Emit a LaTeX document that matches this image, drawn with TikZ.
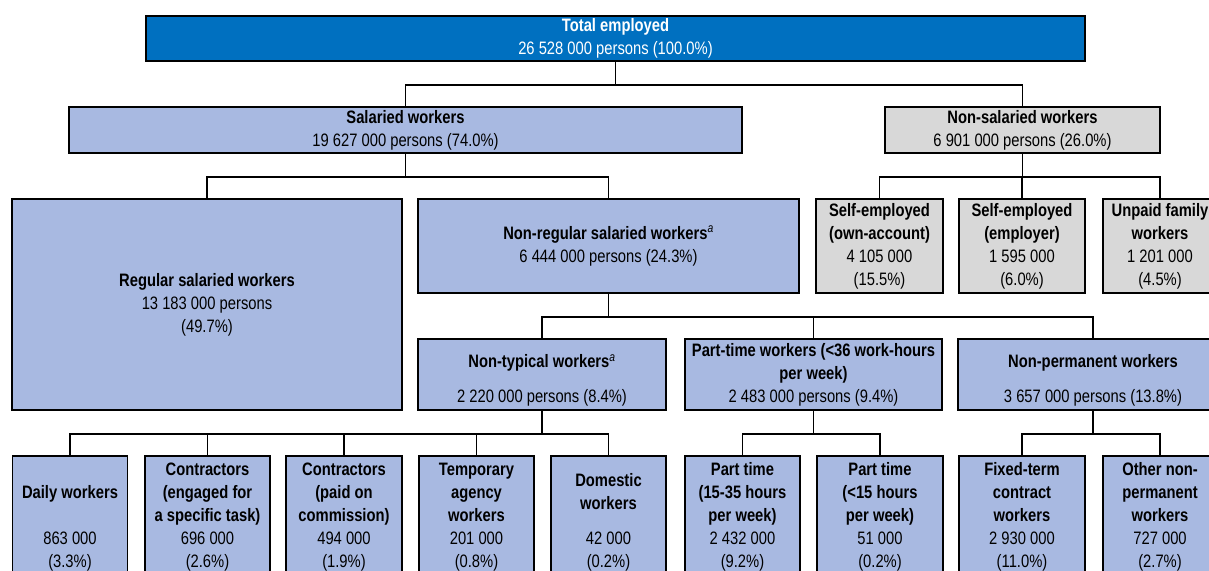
\documentclass[tikz,border=0pt]{standalone}
\usepackage{fontspec}
\setmainfont{Liberation Sans}[FakeStretch=0.82]
\usepackage{tikz}
\usetikzlibrary{calc,positioning}
\definecolor{headblue}{RGB}{0,112,192}
\definecolor{salblue}{RGB}{168,185,225}
\definecolor{nsalgrey}{RGB}{216,216,216}
\tikzstyle{box}=[draw=black,line width=1.8pt,rectangle,inner sep=0pt,align=center,font=\fontsize{18}{23}\selectfont]
\tikzstyle{topbox}=[box,fill=headblue,text=white]
\tikzstyle{salbox}=[box,fill=salblue]
\tikzstyle{nsalbox}=[box,fill=nsalgrey]
\tikzstyle{lowbox}=[salbox,minimum height=121pt]
\tikzstyle{link}=[draw=black,line width=1.8pt]
\newcommand{\supa}{\textsuperscript{\normalfont\itshape a}}

\begin{document}
\begin{tikzpicture}[x=1pt,y=-1pt]
  \useasboundingbox (0,0) rectangle (1209,570);
  \clip (0,0) rectangle (1209,570);

  \node[topbox,minimum width=939pt,minimum height=45pt] (tot) at (615.5,38.5) {\textbf{Total employed}\\26 528 000 persons (100.0\%)};
  \node[salbox,minimum width=673pt,minimum height=46pt] (sal) at (405.5,130) {\textbf{Salaried workers}\\19 627 000 persons (74.0\%)};
  \node[nsalbox,minimum width=275pt,minimum height=46pt] (nsal) at (1022.5,130) {\textbf{Non-salaried workers}\\6 901 000 persons (26.0\%)};

  \node[salbox,minimum width=390pt,minimum height=211pt] (reg) at (207,304.5) {\textbf{Regular salaried workers}\\13 183 000 persons\\(49.7\%)};
  \node[salbox,minimum width=381pt,minimum height=94pt] (nreg) at (608.5,246) {\textbf{Non-regular salaried workers}\supa\\6 444 000 persons (24.3\%)};
  \node[nsalbox,minimum width=127pt,minimum height=94pt] (selfown) at (879.5,246) {\textbf{Self-employed}\\\textbf{(own-account)}\\4 105 000\\(15.5\%)};
  \node[nsalbox,minimum width=126pt,minimum height=94pt] (selfemp) at (1022,246) {\textbf{Self-employed}\\\textbf{(employer)}\\1 595 000\\(6.0\%)};
  \node[nsalbox,minimum width=114pt,minimum height=94pt] (unpaid) at (1160,246) {\textbf{Unpaid family}\\\textbf{workers}\\1 201 000\\(4.5\%)};

  \node[salbox,minimum width=248pt,minimum height=71pt] (ntyp) at (542,374.5) {\strut\\[-11.5pt]\textbf{Non-typical workers}\supa\\[11.5pt]2 220 000 persons (8.4\%)\strut};
  \node[salbox,minimum width=257pt,minimum height=71pt] (ptime) at (813.5,374.5) {\strut\textbf{Part-time workers (<36 work-hours}\\\textbf{per week)}\\2 483 000 persons (9.4\%)\strut};
  \node[salbox,minimum width=270pt,minimum height=71pt] (nperm) at (1093,374.5) {\strut\\[-11.5pt]\textbf{Non-permanent workers}\\[11.5pt]3 657 000 persons (13.8\%)\strut};

  \node[lowbox,minimum width=115pt] (daily) at (70,516.5) {\strut\\\textbf{Daily workers}\\\strut\\863 000\\(3.3\%)\strut};
  \node[lowbox,minimum width=125pt] (contask) at (207.5,516.5) {\strut\textbf{Contractors}\\\textbf{(engaged for}\\\textbf{a specific task)}\\696 000\\(2.6\%)\strut};
  \node[lowbox,minimum width=116pt] (concomm) at (344,516.5) {\strut\textbf{Contractors}\\\textbf{(paid on}\\\textbf{commission)}\\494 000\\(1.9\%)\strut};
  \node[lowbox,minimum width=115pt] (tempag) at (476.5,516.5) {\strut\textbf{Temporary}\\\textbf{agency}\\\textbf{workers}\\201 000\\(0.8\%)\strut};
  \node[lowbox,minimum width=115pt] (domest) at (608.5,516.5) {\strut\\[-11.5pt]\textbf{Domestic}\\\textbf{workers}\\[11.5pt]42 000\\(0.2\%)\strut};
  \node[lowbox,minimum width=115pt] (pt1535) at (742.5,516.5) {\strut\textbf{Part time}\\\textbf{(15-35 hours}\\\textbf{per week)}\\2 432 000\\(9.2\%)\strut};
  \node[lowbox,minimum width=126pt] (ptlt15) at (880,516.5) {\strut\textbf{Part time}\\\textbf{(<15 hours}\\\textbf{per week)}\\51 000\\(0.2\%)\strut};
  \node[lowbox,minimum width=126pt] (fixterm) at (1022,516.5) {\strut\textbf{Fixed-term}\\\textbf{contract}\\\textbf{workers}\\2 930 000\\(11.0\%)\strut};
  \node[lowbox,minimum width=114pt] (othnp) at (1160,516.5) {\strut\textbf{Other non-}\\\textbf{permanent}\\\textbf{workers}\\727 000\\(2.7\%)\strut};

  \foreach \from/\to in {tot/sal,tot/nsal,sal/reg,sal/nreg,
                nsal/selfown,nsal/selfemp,nsal/unpaid,nreg/ntyp,nreg/ptime,nreg/nperm,
                ntyp/daily,ntyp/contask,ntyp/concomm,ntyp/tempag,ntyp/domest,
                ptime/pt1535,ptime/ptlt15,nperm/fixterm,nperm/othnp}
      \draw[link] (\from.south) -- ++(0,23) -| (\to.north);
\end{tikzpicture}
\end{document}
